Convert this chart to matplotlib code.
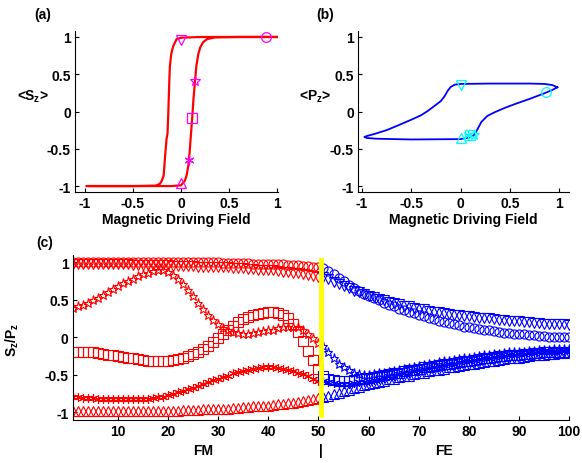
import matplotlib
matplotlib.use("Agg")
import matplotlib.pyplot as plt
import matplotlib.transforms as mtransforms

plt.rcParams['font.family'] = ['Liberation Sans', 'DejaVu Sans']
plt.rcParams['font.weight'] = 'bold'
plt.rcParams['font.size'] = 10
plt.rcParams['mathtext.fontset'] = 'custom'
plt.rcParams['mathtext.rm'] = 'Liberation Sans:bold'
plt.rcParams['mathtext.it'] = 'Liberation Sans:bold'
plt.rcParams['mathtext.bf'] = 'Liberation Sans:bold'
plt.rcParams['mathtext.default'] = 'rm'

# ---- panel (a): <Sz> hysteresis loop (upper branch right->left, lower branch left->right)
a_field = [1.0, 0.6, 0.2, 0.0, -0.045, -0.08, -0.10, -0.115, -0.12, -0.125, -0.13, -0.135, -0.14,
           -0.15, -0.165, -0.18, -0.20, -0.22, -0.26, -0.5, -0.98,
           -0.5, -0.1, 0.0, 0.04, 0.06, 0.076, 0.09, 0.10, 0.11, 0.12, 0.13, 0.145, 0.16,
           0.18, 0.20, 0.23, 0.27, 0.35, 0.6, 1.0]
a_sz = [1.0, 1.0, 1.0, 0.99, 0.97, 0.88, 0.78, 0.61, 0.45, 0.25, 0.05, -0.15, -0.3,
        -0.37, -0.6, -0.86, -0.93, -0.97, -0.995, -1.0, -1.0,
        -1.0, -1.0, -0.99, -0.93, -0.85, -0.73, -0.55, -0.37, -0.2, -0.02, 0.17, 0.4, 0.61,
        0.77, 0.86, 0.93, 0.97, 0.995, 1.0, 1.0]

# ---- panel (b): <Pz> loop
b_field = [0.98, 0.93, 0.85, 0.7, 0.3, 0.0, -0.06, -0.10, -0.13, -0.16, -0.20, -0.26, -0.33,
           -0.40, -0.50, -0.64, -0.75, -0.87, -0.94, -0.975,
           -0.95, -0.85, -0.5, 0.0, 0.08, 0.12, 0.14, 0.17, 0.21, 0.27, 0.345, 0.45, 0.55,
           0.7, 0.85, 0.93, 0.98]
b_pz = [0.325, 0.355, 0.37, 0.375, 0.375, 0.37, 0.36, 0.33, 0.28, 0.21, 0.14, 0.08, 0.01,
        -0.05, -0.11, -0.19, -0.25, -0.30, -0.325, -0.34,
        -0.355, -0.365, -0.375, -0.37, -0.35, -0.33, -0.31, -0.24, -0.14, -0.06, -0.01, 0.05, 0.10,
        0.17, 0.245, 0.29, 0.325]

# markers on the loops (circle, down-tri, star, square, asterisk, up-tri)
mk_styles = ['o', 'v', '*', 's', (6, 2, 0), '^']
a_mk_field = [0.88, 0.0, 0.146, 0.11, 0.087, 0.005]
a_mk_sz = [1.0, 0.96, 0.41, -0.09, -0.65, -0.96]
b_mk_field = [0.86, 0.0, 0.14, 0.10, 0.07, 0.0]
b_mk_pz = [0.26, 0.35, -0.31, -0.32, -0.32, -0.35]

# ---- panel (c): Sz (FM sites 1-50) and Pz (FE sites 51-100)
fm_sites = list(range(1, 51))
fe_sites = list(range(51, 101))

fm_circle = [1.00] * 30 + [0.99, 0.99, 0.99, 0.99, 0.99, 0.99, 0.98, 0.98, 0.98, 0.98,
                           0.97, 0.97, 0.97, 0.96, 0.96, 0.96, 0.95, 0.95, 0.94, 0.94]
fm_vtri = [0.97, 0.97, 0.97, 0.97, 0.97, 0.97, 0.97, 0.97, 0.97, 0.97,
           0.97, 0.97, 0.96, 0.96, 0.96, 0.96, 0.96, 0.96, 0.96, 0.96,
           0.95, 0.95, 0.95, 0.95, 0.95, 0.94, 0.94, 0.94, 0.94, 0.93,
           0.93, 0.93, 0.92, 0.92, 0.92, 0.91, 0.91, 0.90, 0.90, 0.89,
           0.89, 0.88, 0.87, 0.87, 0.86, 0.85, 0.84, 0.83, 0.82, 0.80]
fm_star = [0.39, 0.41, 0.43, 0.46, 0.49, 0.52, 0.56, 0.60, 0.64, 0.68,
           0.72, 0.75, 0.78, 0.81, 0.84, 0.86, 0.88, 0.89, 0.89, 0.87,
           0.83, 0.78, 0.71, 0.63, 0.55, 0.46, 0.38, 0.30, 0.23, 0.17,
           0.12, 0.09, 0.07, 0.06, 0.05, 0.05, 0.06, 0.07, 0.08, 0.09,
           0.10, 0.12, 0.13, 0.14, 0.14, 0.13, 0.10, 0.05, -0.01, -0.08]
fm_square = [-0.19, -0.19, -0.19, -0.20, -0.20, -0.21, -0.22, -0.23, -0.24, -0.25,
             -0.26, -0.27, -0.28, -0.29, -0.30, -0.31, -0.31, -0.32, -0.32, -0.31,
             -0.30, -0.29, -0.27, -0.25, -0.22, -0.19, -0.15, -0.11, -0.06, -0.01,
             0.05, 0.10, 0.15, 0.20, 0.24, 0.27, 0.29, 0.31, 0.32, 0.33,
             0.33, 0.32, 0.30, 0.25, 0.17, 0.07, -0.05, -0.18, -0.30, -0.42]
fm_aster = [-0.80, -0.80, -0.81, -0.81, -0.81, -0.82, -0.82, -0.82, -0.82, -0.82,
            -0.82, -0.82, -0.82, -0.82, -0.82, -0.82, -0.81, -0.80, -0.79, -0.77,
            -0.75, -0.73, -0.71, -0.69, -0.67, -0.65, -0.62, -0.60, -0.57, -0.55,
            -0.53, -0.51, -0.48, -0.46, -0.45, -0.43, -0.42, -0.41, -0.40, -0.40,
            -0.40, -0.41, -0.42, -0.43, -0.45, -0.47, -0.49, -0.52, -0.55, -0.58]
fm_utri = [-0.98] * 22 + [-0.97, -0.97, -0.97, -0.97, -0.96, -0.96, -0.96, -0.95,
                          -0.95, -0.95, -0.94, -0.94, -0.93, -0.93, -0.92, -0.92, -0.91, -0.91,
                          -0.90, -0.89, -0.89, -0.88, -0.87, -0.86, -0.85, -0.84, -0.82, -0.81]

fe_circle = [0.92, 0.88, 0.84, 0.79, 0.75, 0.70, 0.66, 0.62, 0.58, 0.55,
             0.52, 0.49, 0.46, 0.43, 0.41, 0.38, 0.36, 0.34, 0.32, 0.30,
             0.28, 0.26, 0.24, 0.22, 0.20, 0.19, 0.17, 0.16, 0.14, 0.13,
             0.12, 0.11, 0.10, 0.09, 0.08, 0.07, 0.06, 0.06, 0.05, 0.04,
             0.04, 0.03, 0.03, 0.02, 0.02, 0.01, 0.01, 0.01, 0.00, 0.00]
fe_vtri = [0.80, 0.77, 0.74, 0.71, 0.68, 0.65, 0.62, 0.60, 0.57, 0.55,
           0.53, 0.51, 0.49, 0.47, 0.45, 0.44, 0.42, 0.41, 0.39, 0.38,
           0.37, 0.35, 0.34, 0.33, 0.32, 0.31, 0.30, 0.29, 0.28, 0.28,
           0.27, 0.26, 0.25, 0.25, 0.24, 0.23, 0.23, 0.22, 0.22, 0.21,
           0.20, 0.20, 0.19, 0.19, 0.18, 0.18, 0.17, 0.17, 0.17, 0.16]
fe_star = [-0.12, -0.20, -0.28, -0.35, -0.40, -0.44, -0.47, -0.49, -0.50, -0.50,
           -0.49, -0.48, -0.47, -0.46, -0.45, -0.43, -0.42, -0.41, -0.40, -0.38,
           -0.37, -0.36, -0.35, -0.33, -0.32, -0.31, -0.30, -0.29, -0.28, -0.27,
           -0.26, -0.25, -0.24, -0.23, -0.22, -0.22, -0.21, -0.20, -0.20, -0.19,
           -0.19, -0.18, -0.18, -0.17, -0.17, -0.17, -0.16, -0.16, -0.16, -0.16]
fe_square = [-0.52, -0.55, -0.57, -0.58, -0.58, -0.58, -0.57, -0.56, -0.55, -0.54,
             -0.53, -0.52, -0.50, -0.49, -0.48, -0.47, -0.45, -0.44, -0.43, -0.42,
             -0.40, -0.39, -0.38, -0.37, -0.36, -0.35, -0.34, -0.33, -0.32, -0.31,
             -0.30, -0.29, -0.28, -0.27, -0.26, -0.25, -0.25, -0.24, -0.23, -0.23,
             -0.22, -0.22, -0.21, -0.21, -0.20, -0.20, -0.20, -0.19, -0.19, -0.19]
fe_aster = [-0.58, -0.60, -0.61, -0.62, -0.62, -0.62, -0.61, -0.60, -0.59, -0.58,
            -0.57, -0.55, -0.54, -0.52, -0.51, -0.49, -0.48, -0.47, -0.45, -0.44,
            -0.42, -0.41, -0.40, -0.38, -0.37, -0.36, -0.35, -0.33, -0.32, -0.31,
            -0.30, -0.29, -0.28, -0.27, -0.26, -0.25, -0.25, -0.24, -0.23, -0.22,
            -0.22, -0.21, -0.21, -0.20, -0.20, -0.19, -0.19, -0.19, -0.18, -0.18]
fe_utri = [-0.80, -0.78, -0.76, -0.74, -0.72, -0.70, -0.68, -0.66, -0.64, -0.62,
           -0.61, -0.59, -0.58, -0.56, -0.55, -0.53, -0.52, -0.51, -0.49, -0.48,
           -0.47, -0.45, -0.44, -0.43, -0.42, -0.40, -0.39, -0.38, -0.37, -0.36,
           -0.35, -0.34, -0.33, -0.32, -0.31, -0.30, -0.29, -0.28, -0.27, -0.27,
           -0.26, -0.25, -0.24, -0.24, -0.23, -0.22, -0.22, -0.21, -0.21, -0.20]

fm_series = [fm_circle, fm_vtri, fm_star, fm_square, fm_aster, fm_utri]
fe_series = [fe_circle, fe_vtri, fe_star, fe_square, fe_aster, fe_utri]
boundary = 50.5

loop_ticks = [-1, -0.5, 0, 0.5, 1]
loop_ticklabels = ['-1', '-0.5', '0', '0.5', '1']
site_ticks = [10, 20, 30, 40, 50, 60, 70, 80, 90, 100]


def style_axes(ax):
    ax.spines['top'].set_visible(False)
    ax.spines['right'].set_visible(False)
    ax.tick_params(direction='in', length=3, width=0.8, labelsize=10, pad=3)
    for s in ax.spines.values():
        s.set_linewidth(0.8)
    for lbl in ax.get_xticklabels() + ax.get_yticklabels():
        lbl.set_fontweight('bold')


fig = plt.figure(figsize=(5.82, 4.64), dpi=100)

# (a)
ax_a = fig.add_axes([0.129, 0.584, 0.349, 0.347])
ax_a.plot(a_field, a_sz, color='red', lw=1.6)
for m, xv, yv in zip(mk_styles, a_mk_field, a_mk_sz):
    ax_a.plot(xv, yv, marker=m, ms=7, mfc='none', mec='magenta', mew=0.9, ls='none')
ax_a.set_xlim(-1.1, 1.01)
ax_a.set_ylim(-1.08, 1.08)
ax_a.set_xticks(loop_ticks)
ax_a.set_xticklabels(loop_ticklabels)
ax_a.set_yticks(loop_ticks)
ax_a.set_yticklabels(loop_ticklabels)
ax_a.set_xlabel('Magnetic Driving Field', labelpad=1, fontweight='bold')
ax_a.set_ylabel('<S$_z$>', rotation=0, va='center', ha='center', fontweight='bold')
ax_a.yaxis.set_label_coords(-0.207, 0.596)
style_axes(ax_a)

# (b)
ax_b = fig.add_axes([0.615, 0.584, 0.363, 0.347])
ax_b.plot(b_field, b_pz, color='blue', lw=1.3)
for m, xv, yv in zip(mk_styles, b_mk_field, b_mk_pz):
    ax_b.plot(xv, yv, marker=m, ms=7, mfc='none', mec='cyan', mew=0.9, ls='none')
ax_b.set_xlim(-1.04, 1.1)
ax_b.set_ylim(-1.08, 1.08)
ax_b.set_xticks(loop_ticks)
ax_b.set_xticklabels(loop_ticklabels)
ax_b.set_yticks(loop_ticks)
ax_b.set_yticklabels(loop_ticklabels)
ax_b.set_xlabel('Magnetic Driving Field', labelpad=1, fontweight='bold')
ax_b.set_ylabel('<P$_z$>', rotation=0, va='center', ha='center', fontweight='bold')
ax_b.yaxis.set_label_coords(-0.204, 0.596)
style_axes(ax_b)

# (c)
ax_c = fig.add_axes([0.125, 0.093, 0.853, 0.356])
for m, ys in zip(mk_styles, fm_series):
    ax_c.plot(fm_sites, ys, marker=m, ms=6.5, mfc='none', mec='red', mew=0.8, ls='none')
for m, ys in zip(mk_styles, fe_series):
    ax_c.plot(fe_sites, ys, marker=m, ms=6.5, mfc='none', mec='blue', mew=0.8, ls='none')
ax_c.axvline(boundary, ymin=0.027, ymax=0.968, color='yellow', lw=3.5)
ax_c.set_xlim(1, 100)
ax_c.set_ylim(-1.1, 1.1)
ax_c.set_xticks(site_ticks)
ax_c.set_yticks(loop_ticks)
ax_c.set_yticklabels(loop_ticklabels)
ax_c.set_ylabel('S$_z$/P$_z$', fontweight='bold')
ax_c.yaxis.set_label_coords(-0.105, 0.488)
trans = mtransforms.blended_transform_factory(ax_c.transData, ax_c.transAxes)
for xv, lab in zip([27, boundary, 75], ['FM', '|', 'FE']):
    ax_c.text(xv, -0.18, lab, transform=trans, ha='center', va='center',
              fontsize=10, fontweight='bold')
style_axes(ax_c)

fig.text(0.074, 0.967, '(a)', ha='center', va='center', fontsize=10, fontweight='bold')
fig.text(0.558, 0.967, '(b)', ha='center', va='center', fontsize=10, fontweight='bold')
fig.text(0.077, 0.476, '(c)', ha='center', va='center', fontsize=10, fontweight='bold')

fig.savefig('out.png', dpi=100)
